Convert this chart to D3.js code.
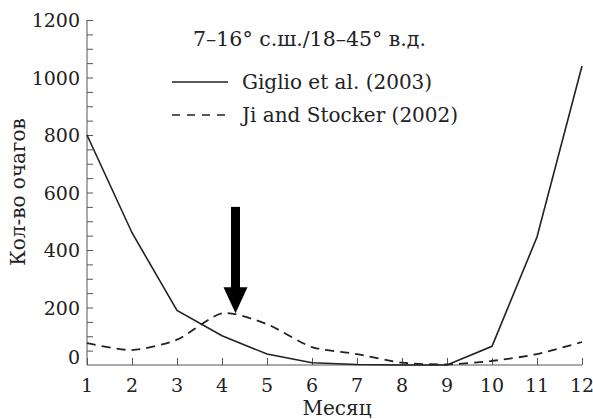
<!DOCTYPE html>
<html>
<head>
<meta charset="utf-8">
<script src="https://cdn.jsdelivr.net/npm/d3@7.9.0/dist/d3.min.js"></script>
<style>
  body { margin: 0; background: #fff; }
</style>
</head>
<body>
<svg id="chart" width="593" height="419" font-family="'DejaVu Serif', serif"></svg>
<script>
// monthly fire counts
const months = [1, 2, 3, 4, 5, 6, 7, 8, 9, 10, 11, 12];
const giglio = [800, 460, 190, 102, 38, 8, 2, 0, 0, 65, 445, 1040];
const jiStocker = [76, 52, 88, 180, 142, 62, 38, 8, 2, 14, 38, 80];
const yTicks = [0, 200, 400, 600, 800, 1000, 1200];
const arrowMonth = 4.3, arrowFrom = 550, arrowTo = 180;

const svg = d3.select('#chart');
const x = d3.scaleLinear().domain([1, 12]).range([87, 582]);
const y = d3.scaleLinear().domain([0, 1200]).range([365, 20]);
const axisColor = '#555';
const ink = '#222';

// y axis: ticks inside, minor every 50
const yAxis = svg.append('g').attr('transform', 'translate(87,0)')
  .call(d3.axisRight(y).tickValues(d3.range(0, 1201, 50)).tickSize(6).tickFormat(''));
yAxis.select('.domain').attr('d', `M0,${y(0)}V${y(1200)}`);
yAxis.selectAll('line').attr('stroke', axisColor);
yAxis.selectAll('path').attr('stroke', axisColor);
yAxis.selectAll('.tick').filter(d => d === 0).remove();

svg.selectAll('.ylab').data(yTicks).join('text')
  .attr('x', 80).attr('y', d => y(d) + (d === 0 ? -1 : 7))
  .attr('text-anchor', 'end').attr('font-size', 19).attr('fill', ink)
  .text(d => d);

// x axis: ticks point up
const xAxis = svg.append('g').attr('transform', `translate(0,${y(0)})`)
  .call(d3.axisTop(x).tickValues(months).tickSize(7).tickFormat(''));
xAxis.select('.domain').attr('d', `M${x(1)},0H${x(12)}`);
xAxis.selectAll('line').attr('stroke', axisColor);
xAxis.selectAll('path').attr('stroke', axisColor);

svg.selectAll('.xlab').data(months).join('text')
  .attr('x', d => x(d)).attr('y', 392)
  .attr('text-anchor', 'middle').attr('font-size', 19).attr('fill', ink)
  .text(d => d);

svg.append('text').attr('x', 337).attr('y', 415).attr('fill', ink)
  .attr('text-anchor', 'middle').attr('font-size', 20).text('Месяц');

svg.append('text').attr('fill', ink)
  .attr('transform', 'translate(25,192) rotate(-90)')
  .attr('text-anchor', 'middle').attr('font-size', 20).text('Кол-во очагов');

// series
const lineStraight = d3.line().x((d, i) => x(months[i])).y(d => y(d));
const lineSmooth = d3.line().x((d, i) => x(months[i])).y(d => y(d))
  .curve(d3.curveCardinal.tension(0.3));

svg.append('path').datum(giglio).attr('d', lineStraight)
  .attr('fill', 'none').attr('stroke', ink).attr('stroke-width', 1.6);
svg.append('path').datum(jiStocker).attr('d', lineSmooth)
  .attr('fill', 'none').attr('stroke', ink).attr('stroke-width', 1.8)
  .attr('stroke-dasharray', '9,6');

// arrow
const ax = x(arrowMonth), ay0 = y(arrowFrom), ay1 = y(arrowTo);
svg.append('rect').attr('x', ax - 4.5).attr('y', ay0).attr('width', 9).attr('height', ay1 - ay0 - 24)
  .attr('fill', '#000');
svg.append('path')
  .attr('d', `M${ax - 12},${ay1 - 26}L${ax + 12},${ay1 - 26}L${ax},${ay1}Z`)
  .attr('fill', '#000');

// title and legend
svg.append('text').attr('x', 193).attr('y', 46).attr('font-size', 20.5).attr('fill', ink)
  .text('7–16° с.ш./18–45° в.д.');

const legend = [
  { label: 'Giglio et al. (2003)', dash: null, yy: 82 },
  { label: 'Ji and Stocker (2002)', dash: '8,7', yy: 115 }
];
legend.forEach(l => {
  svg.append('line').attr('x1', 172).attr('x2', 228).attr('y1', l.yy).attr('y2', l.yy)
    .attr('stroke', ink).attr('stroke-width', 1.6)
    .attr('stroke-dasharray', l.dash);
  svg.append('text').attr('x', 242).attr('y', l.yy + 7).attr('font-size', 20).attr('fill', ink)
    .text(l.label);
});
</script>
</body>
</html>
